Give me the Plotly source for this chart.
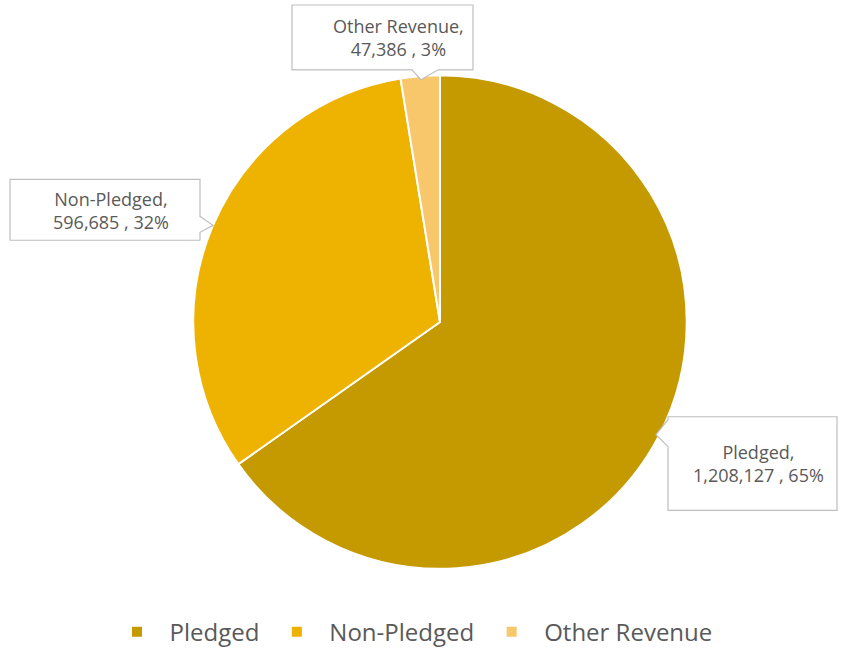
import plotly.graph_objects as go

categories = ["Pledged", "Non-Pledged", "Other Revenue"]
values = [1208127, 596685, 47386]
percents = ["65%", "32%", "3%"]
colors = ["#C49A00", "#EDB300", "#F8C66B"]

W, H = 841, 655


def px(x):
    return x / W


def py(y):
    return 1 - y / H


def path(points):
    return "M " + " L ".join(f"{px(x):.5f},{py(y):.5f}" for x, y in points) + " Z"


fig = go.Figure()
fig.add_trace(go.Pie(
    labels=categories,
    values=values,
    sort=False,
    direction="clockwise",
    rotation=0,
    marker=dict(colors=colors, line=dict(color="white", width=2)),
    textinfo="none",
    hoverinfo="label+value+percent",
    domain=dict(x=[px(192.5), px(687.5)], y=[py(570.5), py(75.5)]),
))

callouts = [
    # Other Revenue (pointer at bottom)
    [(292, 5), (473, 5), (473, 70), (438, 70), (421, 80), (412, 70), (292, 70)],
    # Non-Pledged (pointer on right)
    [(10, 180), (200, 180), (200, 217), (213, 226), (200, 233), (200, 241), (10, 241)],
    # Pledged (pointer on left)
    [(668, 418), (837, 418), (837, 512), (668, 512), (668, 448), (656, 436), (668, 421)],
]
shapes = []
for pts in callouts:
    shapes.append(dict(type="path", xref="paper", yref="paper", path=path(pts),
                       fillcolor="white", line=dict(color="#BFBFBF", width=1.2),
                       layer="above"))

label_pos = [(398, 38), (111, 211), (758, 465)]
order = [2, 1, 0]
annotations = []
for idx, (x, y) in zip(order, label_pos):
    annotations.append(dict(
        x=px(x), y=py(y), xref="paper", yref="paper",
        text=f"{categories[idx]},<br>{values[idx]:,} , {percents[idx]}",
        showarrow=False, xanchor="center", yanchor="middle",
        font=dict(family="Open Sans", size=18, color="#595959"),
    ))

fig.update_layout(
    width=W, height=H,
    margin=dict(l=0, r=0, t=0, b=0),
    paper_bgcolor="white",
    plot_bgcolor="white",
    shapes=shapes,
    annotations=annotations,
    showlegend=True,
    legend=dict(
        orientation="h", x=px(411), xanchor="center", y=py(634), yanchor="middle",
        font=dict(family="Open Sans", size=24, color="#595959"),
        traceorder="normal",
        itemwidth=55,
    ),
)

fig.write_html(
    "out.html",
    config={"displayModeBar": False},
    post_script="document.body.style.margin='0';document.body.style.overflow='hidden';",
)
